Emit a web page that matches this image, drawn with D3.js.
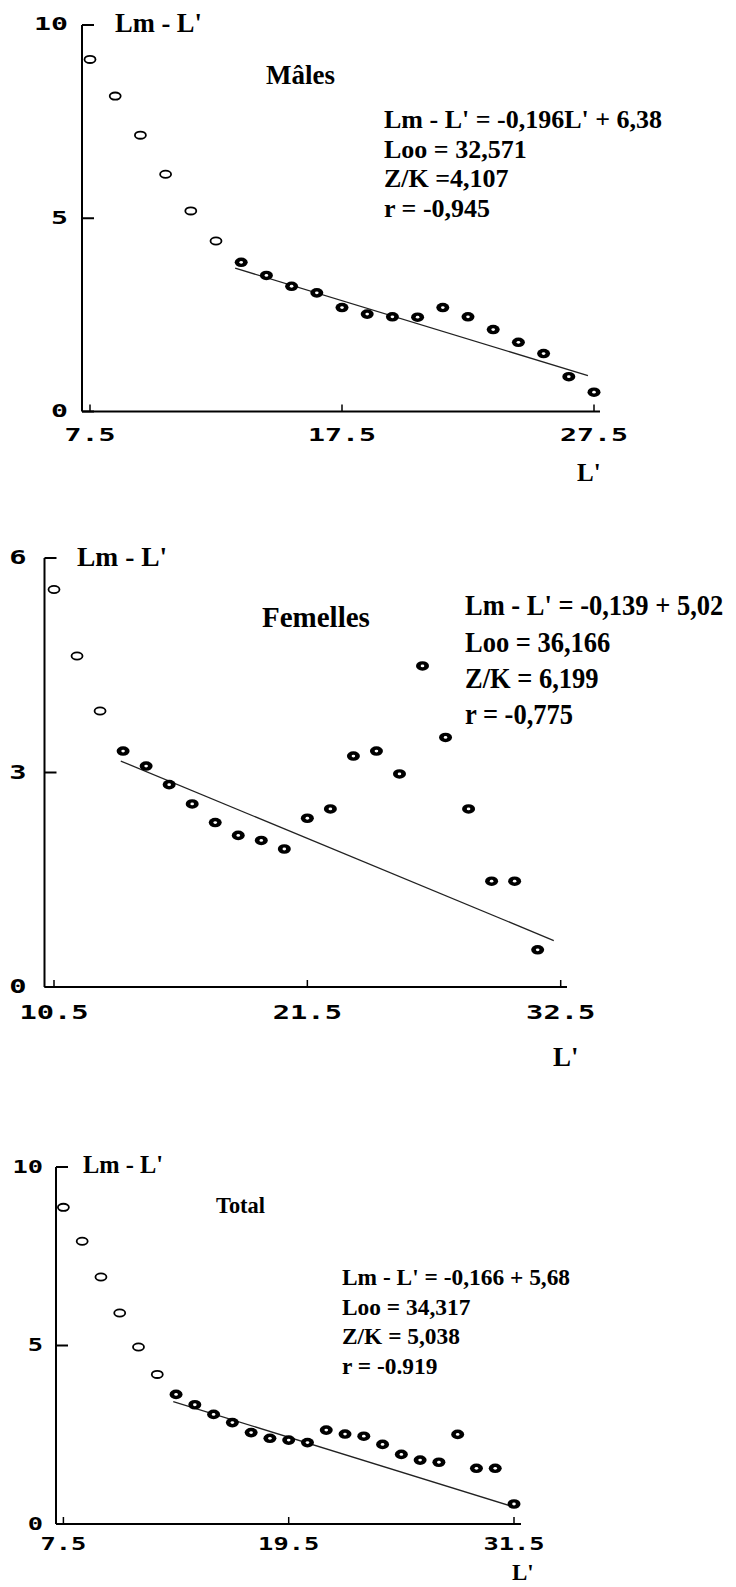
<!DOCTYPE html>
<html>
<head>
<meta charset="utf-8">
<script src="https://cdn.jsdelivr.net/npm/d3@7"></script>
<style>
body { margin: 0; background: #fff; }
svg { display: block; }
</style>
</head>
<body>
<svg id="fig"></svg>
<script>
// ---- Mâles
const malesL = [7.5, 8.5, 9.5, 10.5, 11.5, 12.5, 13.5, 14.5, 15.5, 16.5, 17.5, 18.5, 19.5, 20.5, 21.5, 22.5, 23.5, 24.5, 25.5, 26.5, 27.5];
const malesY = [9.11, 8.16, 7.15, 6.14, 5.19, 4.41, 3.86, 3.52, 3.24, 3.07, 2.69, 2.52, 2.45, 2.44, 2.69, 2.45, 2.12, 1.79, 1.50, 0.90, 0.50];
const malesOpen = 6;
const malesFitL = [13.26, 27.26];
const malesFitY = [3.71, 0.93];
const malesXTicks = [7.5, 17.5, 27.5];
const malesYTicks = [0, 5, 10];
const malesStats = ["Lm - L' = -0,196L' + 6,38", "Loo = 32,571", "Z/K =4,107", "r = -0,945"];

// ---- Femelles
const femL = [10.5, 11.5, 12.5, 13.5, 14.5, 15.5, 16.5, 17.5, 18.5, 19.5, 20.5, 21.5, 22.5, 23.5, 24.5, 25.5, 26.5, 27.5, 28.5, 29.5, 30.5, 31.5];
const femY = [5.56, 4.63, 3.86, 3.30, 3.09, 2.83, 2.56, 2.30, 2.12, 2.05, 1.93, 2.36, 2.49, 3.23, 3.30, 2.98, 4.49, 3.49, 2.49, 1.48, 1.48, 0.52];
const femOpen = 3;
const femFitL = [13.4, 32.2];
const femFitY = [3.16, 0.65];
const femXTicks = [10.5, 21.5, 32.5];
const femYTicks = [0, 3, 6];
const femStats = ["Lm - L' = -0,139 + 5,02", "Loo = 36,166", "Z/K = 6,199", "r = -0,775"];

// ---- Total
const totL = [7.5, 8.5, 9.5, 10.5, 11.5, 12.5, 13.5, 14.5, 15.5, 16.5, 17.5, 18.5, 19.5, 20.5, 21.5, 22.5, 23.5, 24.5, 25.5, 26.5, 27.5, 28.5, 29.5, 30.5, 31.5];
const totY = [8.87, 7.92, 6.92, 5.91, 4.96, 4.19, 3.63, 3.34, 3.07, 2.84, 2.56, 2.40, 2.35, 2.28, 2.63, 2.52, 2.46, 2.23, 1.95, 1.79, 1.73, 2.51, 1.56, 1.56, 0.56];
const totOpen = 6;
const totFitL = [13.35, 31.3];
const totFitY = [3.43, 0.51];
const totXTicks = [7.5, 19.5, 31.5];
const totYTicks = [0, 5, 10];
const totStats = ["Lm - L' = -0,166 + 5,68", "Loo = 34,317", "Z/K = 5,038", "r = -0.919"];

const SERIF = '"Liberation Serif", "Times New Roman", serif';
const MONO = '"DejaVu Sans Mono", "Liberation Mono", monospace';

class LmPlot {
    constructor (config, data) {
        this.config = config;
        this.data = data;
        this.init();
    }

    init() {
        let self = this;
        let c = self.config;

        self.chart = d3.select(c.parent).append('g');

        self.xscale = d3.scaleLinear()
            .domain([c.xticks[0], c.xticks[c.xticks.length - 1]])
            .range([c.xStart, c.xEnd]);

        self.yscale = d3.scaleLinear()
            .domain([0, c.yticks[c.yticks.length - 1]])
            .range([c.yBottom, c.yTop]);

        self.xaxis = d3.axisBottom(self.xscale)
            .tickValues(c.xticks)
            .tickFormat(d3.format('.1f'))
            .tickSizeInner(-7)
            .tickSizeOuter(0)
            .offset(0);

        self.yaxis = d3.axisLeft(self.yscale)
            .tickValues(c.yticks)
            .tickFormat(d3.format('d'))
            .tickSizeInner(-12)
            .tickSizeOuter(0)
            .tickPadding(c.ylabGap)
            .offset(0);

        self.xaxis_group = self.chart.append('g')
            .attr('transform', `translate(0, ${c.yBottom})`);
        self.yaxis_group = self.chart.append('g')
            .attr('transform', `translate(${c.axisX}, 0)`);

        // axis titles and notes
        self.chart.append('text')
            .attr('x', c.ylabel.x).attr('y', c.ylabel.y)
            .style('font-size', c.ylabel.size + 'px')
            .text("Lm - L'");

        self.chart.append('text')
            .attr('x', c.title.x).attr('y', c.title.y)
            .style('font-size', c.title.size + 'px')
            .text(c.title.text);

        self.chart.append('text')
            .attr('x', c.xlabel.x).attr('y', c.xlabel.y)
            .style('font-size', c.xlabel.size + 'px')
            .text("L'");

        const sy = c.stats.sy || 1;
        self.chart.selectAll('text.stat')
            .data(c.stats.lines)
            .join('text')
            .attr('class', 'stat')
            .attr('transform', (d, i) => `translate(${c.stats.x}, ${c.stats.ys[i]}) scale(1, ${sy})`)
            .style('font-size', c.stats.size + 'px')
            .text(d => d);

        self.chart.selectAll('text')
            .style('font-family', SERIF)
            .style('font-weight', 'bold')
            .attr('fill', '#000');
    }

    render() {
        let self = this;
        let c = self.config;

        self.xaxis_group.call(self.xaxis);
        self.yaxis_group.call(self.yaxis);

        self.xaxis_group.select('.domain').remove();
        self.xaxis_group.append('line')
            .attr('x1', c.axisX).attr('x2', c.axisEnd)
            .attr('y1', 0).attr('y2', 0)
            .attr('stroke', '#000').attr('stroke-width', 2);

        self.yaxis_group.select('.domain')
            .attr('stroke', '#000').attr('stroke-width', 2);

        self.xaxis_group.selectAll('.tick line')
            .attr('stroke', '#000').attr('stroke-width', 1.5);
        self.yaxis_group.selectAll('.tick line')
            .attr('stroke', '#000').attr('stroke-width', 2);

        [self.xaxis_group, self.yaxis_group].forEach(g => {
            g.selectAll('.tick text')
                .attr('fill', '#000')
                .style('font-family', MONO)
                .style('font-weight', 'bold')
                .style('font-size', c.tickFont + 'px')
                .attr('lengthAdjust', 'spacingAndGlyphs')
                .attr('textLength', function () { return this.textContent.length * c.charW; });
        });
        self.xaxis_group.selectAll('.tick text')
            .attr('y', c.xlabGap)
            .attr('dy', '0.36em');

        // fitted line
        self.chart.append('line')
            .attr('x1', self.xscale(c.fitL[0])).attr('y1', self.yscale(c.fitY[0]))
            .attr('x2', self.xscale(c.fitL[1])).attr('y2', self.yscale(c.fitY[1]))
            .attr('stroke', '#222')
            .attr('stroke-width', 1.3);

        const pts = self.data.L.map((l, i) => ({l: l, v: self.data.Y[i], open: i < c.open}));

        self.chart.selectAll('ellipse.open')
            .data(pts.filter(d => d.open))
            .join('ellipse')
            .attr('class', 'open')
            .attr('cx', d => self.xscale(d.l))
            .attr('cy', d => self.yscale(d.v))
            .attr('rx', 5.5).attr('ry', 3.6)
            .attr('fill', '#fff')
            .attr('stroke', '#000')
            .attr('stroke-width', 1.8);

        self.chart.selectAll('ellipse.full')
            .data(pts.filter(d => !d.open))
            .join('ellipse')
            .attr('class', 'full')
            .attr('cx', d => self.xscale(d.l))
            .attr('cy', d => self.yscale(d.v))
            .attr('rx', 6.5).attr('ry', 4.8)
            .attr('fill', '#000');

        self.chart.selectAll('ellipse.hole')
            .data(pts.filter(d => !d.open))
            .join('ellipse')
            .attr('class', 'hole')
            .attr('cx', d => self.xscale(d.l))
            .attr('cy', d => self.yscale(d.v))
            .attr('rx', 1.8).attr('ry', 1.4)
            .attr('fill', '#fff');
    }
}

const svg = d3.select('#fig')
    .attr('width', 736)
    .attr('height', 1587);
svg.append('rect').attr('width', 736).attr('height', 1587).attr('fill', '#fff');

const males = new LmPlot({
    parent: '#fig',
    axisX: 82, axisEnd: 600,
    xStart: 90, xEnd: 594, yTop: 25, yBottom: 411.5,
    xticks: malesXTicks, yticks: malesYTicks,
    tickFont: 17, charW: 17, xlabGap: 23, ylabGap: 14,
    fitL: malesFitL, fitY: malesFitY, open: malesOpen,
    ylabel: {x: 115, y: 32, size: 26.5},
    title: {text: 'Mâles', x: 266, y: 84, size: 27},
    stats: {lines: malesStats, x: 384, ys: [128, 158, 187, 217], size: 26},
    xlabel: {x: 577, y: 481, size: 25}
}, {L: malesL, Y: malesY});
males.render();

const femelles = new LmPlot({
    parent: '#fig',
    axisX: 44.5, axisEnd: 567,
    xStart: 54, xEnd: 560.7, yTop: 558, yBottom: 987,
    xticks: femXTicks, yticks: femYTicks,
    tickFont: 20, charW: 17.3, xlabGap: 25, ylabGap: 18,
    fitL: femFitL, fitY: femFitY, open: femOpen,
    ylabel: {x: 77, y: 566, size: 27.5},
    title: {text: 'Femelles', x: 262, y: 627, size: 29},
    stats: {lines: femStats, x: 465, ys: [615, 652, 688, 724], size: 26.5, sy: 1.15},
    xlabel: {x: 553, y: 1066, size: 27}
}, {L: femL, Y: femY});
femelles.render();

const total = new LmPlot({
    parent: '#fig',
    axisX: 56, axisEnd: 521,
    xStart: 63.4, xEnd: 514, yTop: 1167, yBottom: 1524,
    xticks: totXTicks, yticks: totYTicks,
    tickFont: 18, charW: 15.3, xlabGap: 20, ylabGap: 13,
    fitL: totFitL, fitY: totFitY, open: totOpen,
    ylabel: {x: 83, y: 1173, size: 24.4},
    title: {text: 'Total', x: 216, y: 1213, size: 22.4},
    stats: {lines: totStats, x: 342, ys: [1285, 1315, 1344, 1374], size: 23.4},
    xlabel: {x: 512, y: 1580, size: 23}
}, {L: totL, Y: totY});
total.render();
</script>
</body>
</html>
